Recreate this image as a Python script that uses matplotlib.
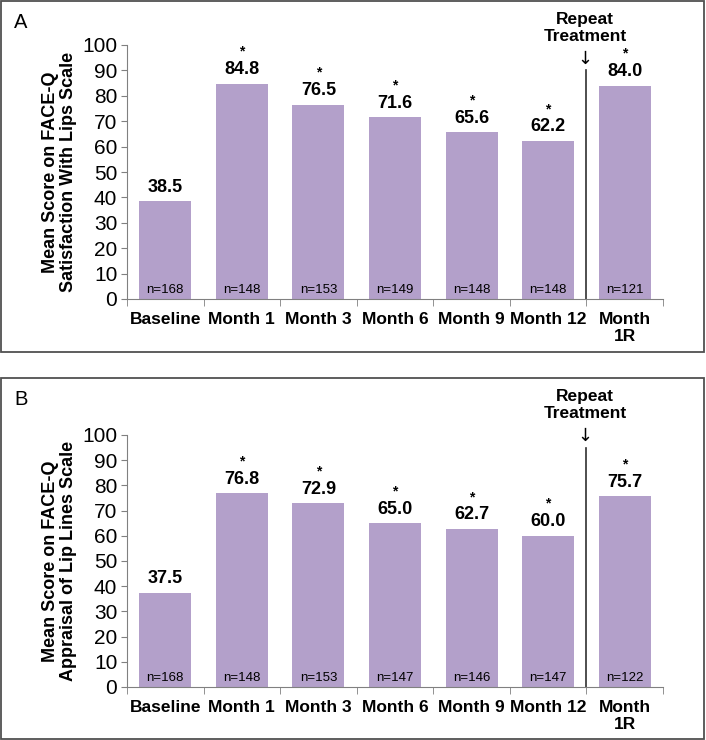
import matplotlib
matplotlib.use('Agg')
from matplotlib import pyplot as plt
from matplotlib.patches import Rectangle

plt.rcParams['font.family'] = ['Liberation Sans', 'DejaVu Sans']

categories = ['Baseline', 'Month 1', 'Month 3', 'Month 6', 'Month 9', 'Month 12', 'Month\n1R']

scores_a = [38.5, 84.8, 76.5, 71.6, 65.6, 62.2, 84.0]
n_a = [168, 148, 153, 149, 148, 148, 121]
stars_a = [False, True, True, True, True, True, True]

scores_b = [37.5, 76.8, 72.9, 65.0, 62.7, 60.0, 75.7]
n_b = [168, 148, 153, 147, 146, 147, 122]
stars_b = [False, True, True, True, True, True, True]

panels = [
    ('A', scores_a, n_a, stars_a, 'Mean Score on FACE-Q\nSatisfaction With Lips Scale'),
    ('B', scores_b, n_b, stars_b, 'Mean Score on FACE-Q\nAppraisal of Lip Lines Scale'),
]

bar_color = '#B3A0CA'
W, H = 706, 740

fig = plt.figure(figsize=(W / 100, H / 100), dpi=100)

# panel frames (pixel boxes: left, top, right, bottom)
frames = [(1, 1, 704, 352), (1, 378, 704, 739)]
# axes boxes in pixels
axes_px = [(127, 45, 663, 299), (127, 435, 663, 687)]
line_top = [90, 95]
arrow_y = [94.5, 99.5]

for (letter, scores, ns, stars, ylabel), fr, ap, lt, ay in zip(panels, frames, axes_px, line_top, arrow_y):
    l, t, r, b = fr
    fig.patches.append(Rectangle((l / W, 1 - b / H), (r - l) / W, (b - t) / H,
                                 transform=fig.transFigure, fill=False,
                                 edgecolor='#505050', linewidth=1.3))
    fig.text((l + 13) / W, 1 - (t + 21) / H, letter, fontsize=14.5, va='center', ha='left')

    al, at, ar, ab = ap
    ax = fig.add_axes([al / W, 1 - ab / H, (ar - al) / W, (ab - at) / H])
    x = list(range(len(categories)))
    ax.bar(x, scores, width=0.68, color=bar_color)
    ax.set_xlim(-0.5, len(categories) - 0.5)
    ax.set_ylim(0, 100)
    ax.set_yticks(range(0, 101, 10))
    ax.tick_params(axis='y', labelsize=15, length=4, color='#808080', pad=3)

    ax.set_xticks(x)
    ax.set_xticklabels(categories, fontsize=12.5, fontweight='bold', va='top',
                       linespacing=1.2)
    ax.tick_params(axis='x', length=0, pad=9)
    ax.set_xticks([i - 0.5 for i in range(len(categories) + 1)], minor=True)
    ax.tick_params(axis='x', which='minor', length=5, color='#808080', direction='out')

    for side in ['top', 'right']:
        ax.spines[side].set_visible(False)
    ax.spines['left'].set_color('#808080')
    ax.spines['bottom'].set_color('#808080')

    for i, (v, n, s) in enumerate(zip(scores, ns, stars)):
        ax.annotate(f'{v:.1f}', (i, v), xytext=(0, 4), textcoords='offset points',
                    ha='center', va='bottom', fontsize=13, fontweight='bold')
        if s:
            ax.annotate('*', (i, v), xytext=(0, 18), textcoords='offset points',
                        ha='center', va='bottom', fontsize=10, fontweight='bold')
        ax.text(i, 1, f'n={n}', ha='center', va='bottom', fontsize=9.5)

    ax.set_ylabel(ylabel, fontsize=13, fontweight='bold', linespacing=1.05, labelpad=4)

    ax.plot([5.5, 5.5], [0, lt], color='#303030', linewidth=1.2, clip_on=False)
    ax.text(5.48, ay, '\u2193', ha='center', va='center', fontsize=13,
            family=['DejaVu Sans'], clip_on=False)
    ax.text(5.48, ay + 6, 'Repeat\nTreatment', ha='center', va='bottom',
            fontsize=12.5, fontweight='bold', linespacing=1.15, clip_on=False)

fig.savefig('out.png', dpi=100)
